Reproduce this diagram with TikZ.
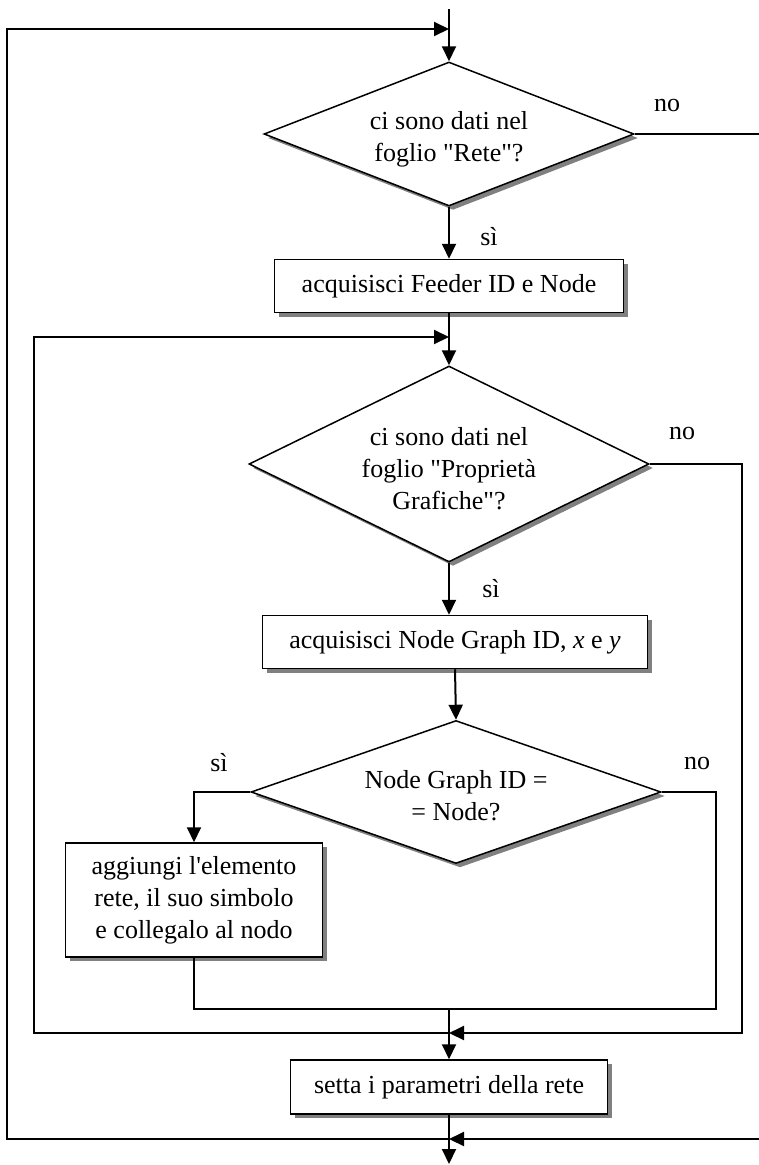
\documentclass[tikz,border=0pt]{standalone}
\usepackage{fontspec}
\newfontfamily\diagfont{Liberation Serif}
\usetikzlibrary{shapes.geometric,arrows.meta,shadows}

\begin{document}
\begin{tikzpicture}[x=1pt,y=-1pt,
  every node/.style={font=\diagfont\fontsize{26}{32}\selectfont},
  shadowed/.style={drop shadow={shadow xshift=4pt,shadow yshift=-4pt,fill=black!50,opacity=1}},
  decision/.style={diamond,draw,line width=1.5pt,fill=white,inner sep=0pt,shadowed},
  process/.style={rectangle,draw,line width=1.5pt,fill=white,inner sep=0pt,align=center,shadowed},
  inside/.style={inner sep=0pt,align=center},
  branchtxt/.style={inner sep=0pt},
  link/.style={line width=1.5pt},
  flow/.style={line width=2pt,-{Triangle[length=15pt,width=14pt]}}
]
\useasboundingbox (0,0) rectangle (758,1165);

% junction points on the main vertical line
\coordinate (ttop) at (449,9);
\coordinate (j0) at (449,29);
\coordinate (j1) at (449,337);
\coordinate (j2) at (449,1009);
\coordinate (j3) at (449,1033);
\coordinate (j4) at (449,1139);
\coordinate (tend) at (449,1164);

% decisions
\node[decision,minimum width=370pt,minimum height=144pt] (d1) at (449,134) {};
\node[inside] (d1t) at (449,139) {ci sono dati nel\\foglio "Rete"?};

\node[decision,minimum width=400pt,minimum height=196pt] (d2) at (449,464) {};
\node[inside] (d2t) at (449,469) {ci sono dati nel\\foglio "Proprietà\\Grafiche"?};

\node[decision,minimum width=410pt,minimum height=143pt] (d3) at (456,792) {};
\node[inside] (d3t) at (456,796) {Node Graph ID =\\= Node?};

% actions
\node[process,minimum width=349pt,minimum height=53pt] (b1) at (449,286) {acquisisci Feeder ID e Node};
\node[process,minimum width=385pt,minimum height=53pt] (b2) at (455,642) {acquisisci Node Graph ID, \textit{x} e \textit{y}};
\node[process,minimum width=257pt,minimum height=114pt] (b3) at (194,900) {aggiungi l'elemento\\rete, il suo simbolo\\e collegalo al nodo};
\node[process,minimum width=317pt,minimum height=54pt] (b4) at (449,1087) {setta i parametri della rete};

% branch labels
\node[branchtxt] (no1) at (667,105) {no};
\node[branchtxt] (si1) at (489,237) {sì};
\node[branchtxt] (no2) at (682,433) {no};
\node[branchtxt] (si2) at (491,589) {sì};
\node[branchtxt] (si3) at (219,763) {sì};
\node[branchtxt] (no3) at (697,763) {no};

% main flow
\draw[flow] (ttop) -- (d1.north);
\draw[flow] (d1.south) -- (b1.north);
\draw[flow] (b1.south) -- (d2.north);
\draw[flow] (d2.south) -- (d2.south |- b2.north);
\draw[flow] (b2.south) -- (d3.north);
\draw[flow] (d3.west) -| (b3.north);
\draw[link] (b3.south) |- (716,1009) |- (d3.east);
\draw[flow] (j2) -- (b4.north);
\draw[flow] (b4.south) -- (tend);

% inner loop
\draw[flow] (d2.east) -- (742,464) |- (j3);
\draw[flow] (j3) -| (34,337) -- (j1);

% outer loop (its right-hand return runs just past the page edge)
\draw[flow] (d1.east) -- (764,134) |- (j4);
\draw[flow] (j4) -| (7,29) -- (j0);
\end{tikzpicture}
\end{document}
